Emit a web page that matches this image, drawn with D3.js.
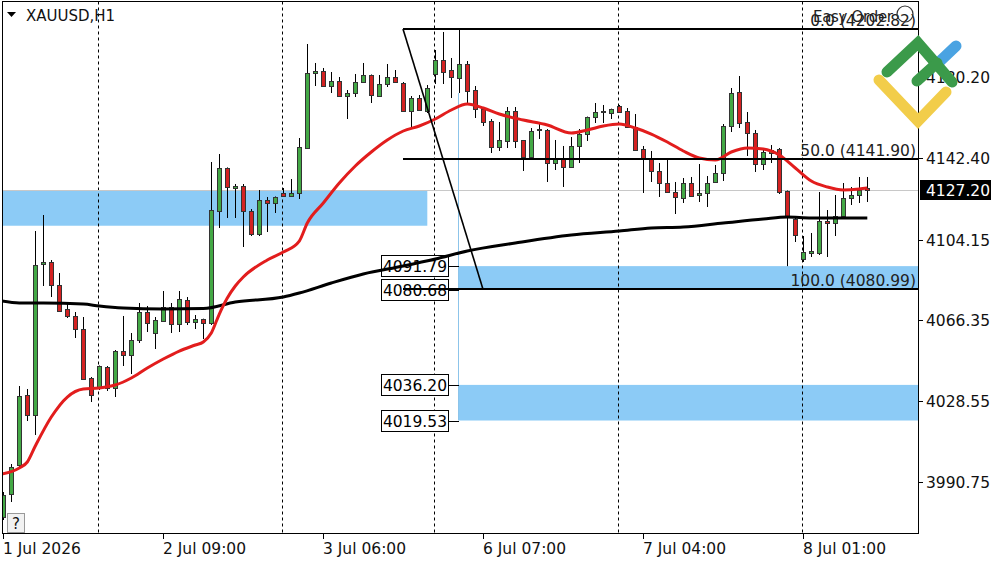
<!DOCTYPE html>
<html>
<head>
<meta charset="utf-8">
<script src="https://cdn.jsdelivr.net/npm/d3@7"></script>
<style>
  body { margin: 0; background: #fff; }
  svg { display: block; font-family: "DejaVu Sans", Tahoma, sans-serif; }
</style>
</head>
<body>
<div id="root"></div>
<script>
// XAUUSD H1 bars (oldest first)
var opens = [3974.37, 3985.13, 3998.71, 4031.47, 4022.11, 4092.79, 4093.72, 4082.96, 4071.72, 4068.45,
  4062.36, 4039.43, 4034.75, 4044.58, 4034.75, 4052.06, 4050.19, 4057.21, 4070.32, 4060.49,
  4066.11, 4072.66, 4064.70, 4075.94, 4065.64, 4067.04, 4065.17, 4117.59, 4137.72, 4128.36,
  4129.29, 4117.59, 4106.83, 4122.74, 4121.34, 4126.02, 4124.61, 4126.02, 4147.08, 4182.19,
  4183.12, 4176.10, 4178.44, 4171.42, 4172.82, 4177.97, 4181.25, 4171.42, 4177.04, 4180.31,
  4177.50, 4164.40, 4170.48, 4164.40, 4181.72, 4188.27, 4183.59, 4179.84, 4186.40, 4174.23,
  4165.33, 4159.72, 4147.55, 4150.36, 4164.40, 4150.83, 4142.87, 4155.51, 4155.51, 4140.06,
  4141.93, 4138.19, 4148.02, 4153.63, 4161.59, 4163.93, 4163.46, 4166.74, 4164.40, 4156.91,
  4146.61, 4141.93, 4136.32, 4130.70, 4126.49, 4123.68, 4130.70, 4125.08, 4126.02, 4131.17,
  4135.38, 4157.38, 4173.29, 4159.25, 4154.10, 4139.59, 4144.74, 4146.61, 4126.95, 4113.85,
  4095.13, 4097.93, 4097.93, 4112.91, 4111.98, 4115.25, 4123.68, 4125.08, 4128.36];
var highs = [3986.07, 3999.17, 4035.68, 4034.28, 4108.23, 4115.72, 4094.66, 4088.57, 4074.53, 4070.32,
  4067.98, 4039.90, 4045.30, 4045.04, 4052.53, 4068.45, 4060.49, 4074.53, 4073.13, 4067.98,
  4080.15, 4074.53, 4080.15, 4077.34, 4068.91, 4067.20, 4140.53, 4144.27, 4138.00, 4130.23,
  4130.23, 4118.53, 4127.42, 4124.15, 4124.40, 4128.36, 4132.57, 4151.76, 4195.76, 4186.87,
  4184.53, 4182.65, 4180.31, 4174.23, 4181.72, 4186.87, 4181.50, 4181.25, 4186.40, 4183.59,
  4177.97, 4171.42, 4171.89, 4176.57, 4192.95, 4201.38, 4189.21, 4202.82, 4187.80, 4176.10,
  4165.80, 4160.65, 4159.25, 4166.27, 4166.27, 4150.83, 4156.44, 4158.31, 4155.97, 4150.83,
  4148.02, 4152.23, 4155.97, 4161.80, 4168.14, 4167.21, 4165.50, 4167.21, 4165.80, 4162.99,
  4148.02, 4145.68, 4140.06, 4141.46, 4131.17, 4133.04, 4133.51, 4139.59, 4133.97, 4139.12,
  4158.31, 4175.16, 4180.78, 4163.93, 4155.51, 4146.61, 4148.48, 4147.08, 4127.20, 4114.78,
  4105.89, 4107.30, 4126.49, 4118.06, 4125.08, 4130.70, 4128.83, 4133.51, 4133.51];
var lows = [3972.96, 3981.39, 3997.50, 4019.30, 4012.75, 4082.49, 4077.34, 4070.32, 4067.51, 4058.15,
  4038.49, 4028.19, 4033.81, 4033.34, 4030.53, 4045.04, 4041.30, 4055.81, 4060.96, 4053.00,
  4065.64, 4060.49, 4060.96, 4064.23, 4062.36, 4057.68, 4064.23, 4109.64, 4114.32, 4114.32,
  4100.74, 4105.89, 4105.89, 4107.76, 4116.66, 4124.30, 4124.15, 4123.21, 4146.80, 4176.10,
  4175.63, 4172.82, 4170.95, 4160.65, 4170.95, 4177.50, 4168.14, 4170.95, 4175.63, 4177.50,
  4163.93, 4156.91, 4164.40, 4163.46, 4177.04, 4177.04, 4170.48, 4172.82, 4168.14, 4161.12,
  4157.38, 4144.74, 4145.68, 4147.08, 4147.08, 4136.32, 4142.87, 4151.29, 4131.17, 4136.78,
  4128.83, 4137.72, 4140.06, 4150.36, 4158.78, 4158.78, 4160.65, 4163.70, 4156.60, 4145.68,
  4126.02, 4131.17, 4124.15, 4126.02, 4116.19, 4121.34, 4124.15, 4121.81, 4119.47, 4130.70,
  4131.63, 4154.57, 4156.44, 4143.34, 4135.85, 4136.78, 4140.06, 4125.55, 4091.79, 4103.08,
  4093.72, 4096.06, 4097.00, 4096.06, 4105.89, 4114.78, 4120.40, 4121.34, 4121.81];
var closes = [3984.66, 3997.77, 4031.00, 4022.11, 4092.32, 4093.72, 4082.96, 4070.79, 4068.45, 4062.36,
  4038.96, 4031.47, 4045.04, 4034.75, 4052.06, 4050.19, 4057.21, 4070.32, 4065.17, 4066.57,
  4072.66, 4064.70, 4076.40, 4065.64, 4067.04, 4065.17, 4118.06, 4137.72, 4128.83, 4129.29,
  4117.59, 4106.83, 4122.74, 4121.34, 4124.15, 4124.61, 4126.02, 4147.55, 4182.19, 4183.12,
  4176.10, 4178.44, 4171.42, 4172.82, 4177.97, 4181.25, 4171.89, 4177.04, 4180.31, 4177.97,
  4164.40, 4170.48, 4164.87, 4175.16, 4188.27, 4182.65, 4180.31, 4186.40, 4173.76, 4165.33,
  4159.25, 4147.55, 4150.83, 4164.40, 4150.36, 4142.87, 4155.04, 4155.97, 4140.06, 4141.93,
  4138.19, 4148.02, 4153.63, 4161.59, 4163.93, 4164.40, 4165.33, 4163.93, 4156.91, 4146.14,
  4142.40, 4136.32, 4130.70, 4126.49, 4124.15, 4130.70, 4124.61, 4126.02, 4130.70, 4135.38,
  4157.38, 4172.82, 4158.78, 4154.10, 4139.59, 4145.21, 4146.14, 4126.49, 4114.78, 4106.36,
  4098.40, 4098.87, 4112.91, 4111.98, 4115.25, 4123.68, 4125.08, 4127.42, 4127.20];

// moving averages, [bar index, price] read at sample bars
var maFast = [[-0.2,3994.49],[2,3997.30],[3,4000.11],[4,4007.60],[6,4021.17],[8,4030.53],[10,4034.28],
  [12,4034.75],[14,4036.15],[16,4039.43],[18,4044.11],[20,4048.32],[22,4052.06],[24,4054.87],
  [25,4056.28],[26,4060.49],[27,4069.38],[28,4076.87],[29,4082.49],[30,4086.70],[33,4094.66],
  [35,4098.40],[37,4103.55],[38,4111.98],[40,4121.34],[42,4130.70],[44,4138.66],[46,4145.21],
  [48,4150.83],[50,4155.04],[52,4157.38],[54,4160.65],[56,4164.87],[58,4167.68],[60,4165.80],
  [62,4162.99],[65,4160.19],[68,4157.85],[71,4154.10],[73,4155.51],[75,4157.38],[77,4158.31],
  [79,4156.44],[81,4153.63],[83,4149.89],[85,4145.68],[87,4142.40],[89,4141.46],[91,4145.21],
  [93,4147.08],[95,4146.61],[97,4143.80],[99,4137.72],[101,4131.63],[103,4128.83],[105,4127.42],
  [107,4127.89],[108,4128.36]];
var maSlow = [[-0.2,4075.47],[2,4074.53],[5,4074.53],[10,4074.06],[12,4073.13],[15,4072.19],[20,4071.72],
  [25,4071.95],[29,4075.00],[35,4077.34],[37,4079.21],[41,4083.89],[45,4088.11],[50,4091.85],
  [54,4095.13],[58,4098.87],[64,4102.61],[71,4106.36],[77,4108.23],[81,4109.64],[85,4110.10],
  [90,4111.98],[95,4113.85],[98,4114.78],[101,4114.32],[108,4114.32]];

var priceTicks = [4180.20, 4142.40, 4104.15, 4066.35, 4028.55, 3990.75];
var timeTicks = [0, 20, 40, 60, 80, 100];
var timeLabels = ["1 Jul 2026", "2 Jul 09:00", "3 Jul 06:00", "6 Jul 07:00", "7 Jul 04:00", "8 Jul 01:00"];
var daySeparators = [12, 35, 54, 77, 100];

// supply/demand zones: [from bar, to bar (null = right edge), low, high]
var zones = [[-1, 53, 4110.70, 4127.42], [57, null, 4080.68, 4091.79], [57, null, 4019.53, 4036.20]];
var zoneLabels = [4091.79, 4080.68, 4036.20, 4019.53];
var zoneLineBar = 57;

var fibAnchors = [50, 60];
var fibPrices = [4202.82, 4141.90, 4080.99];
var fibLabels = ["0.0 (4202.82)", "50.0 (4141.90)", "100.0 (4080.99)"];
var lastPrice = 4127.20;

var width = 1000, height = 562;
var pLeft = 2.5, pRight = 918.5, pTop = 1.5, pBottom = 533.5;

var svg = d3.select("#root").append("svg")
    .attr("width", width)
    .attr("height", height);

var x = d3.scaleLinear().domain([0, 108]).range([3.3, 867.3]);
var y = d3.scaleLinear().domain([3966.88, 4215.42]).range([533, 2]);

svg.append("defs").append("clipPath").attr("id", "plot")
    .append("rect").attr("x", pLeft).attr("y", pTop)
    .attr("width", pRight - pLeft).attr("height", pBottom - pTop);

var chart = svg.append("g").attr("clip-path", "url(#plot)");

function zoneX(d) { return d[0] < 0 ? pLeft : Math.round(x(d[0])); }

// zones
chart.selectAll("rect.zone").data(zones).enter().append("rect")
    .attr("class", "zone")
    .attr("x", zoneX)
    .attr("y", function(d) { return y(d[3]); })
    .attr("width", function(d) { return (d[1] === null ? pRight : x(d[1])) - zoneX(d); })
    .attr("height", function(d) { return y(d[2]) - y(d[3]); })
    .attr("fill", "#8ccbf6");

// day separators
chart.selectAll("line.sep").data(daySeparators).enter().append("line")
    .attr("x1", function(d) { return Math.round(x(d)) - 0.5; })
    .attr("x2", function(d) { return Math.round(x(d)) - 0.5; })
    .attr("y1", pTop).attr("y2", pBottom)
    .attr("stroke", "#000").attr("stroke-width", 1).attr("stroke-dasharray", "3,3");

// bid line
chart.append("line")
    .attr("x1", pLeft).attr("x2", pRight)
    .attr("y1", Math.round(y(lastPrice)) + 0.5).attr("y2", Math.round(y(lastPrice)) + 0.5)
    .attr("stroke", "#c8c8c8");

// thin vertical from the swing bar down to the lower zone
chart.append("line")
    .attr("x1", Math.round(x(zoneLineBar)) - 0.5).attr("x2", Math.round(x(zoneLineBar)) - 0.5)
    .attr("y1", y(lows[zoneLineBar])).attr("y2", y(zones[2][2]))
    .attr("stroke", "#8cc4ea");

// zone price labels
var zl = chart.selectAll("g.zl").data(zoneLabels).enter().append("g")
    .attr("transform", function(d) { return "translate(0," + Math.round(y(d)) + ")"; });
zl.append("line").attr("x1", 449).attr("x2", Math.round(x(zoneLineBar)))
    .attr("y1", 0.5).attr("y2", 0.5).attr("stroke", "#000");
zl.append("rect").attr("x", 381.5).attr("y", -10.5).attr("width", 67).attr("height", 21)
    .attr("fill", "#fff").attr("stroke", "#000");
zl.append("text").attr("x", 447).attr("y", 6).attr("text-anchor", "end")
    .attr("font-size", 15.5).attr("fill", "#000")
    .text(function(d) { return d.toFixed(2); });

// candles
var bars = chart.selectAll("g.bar").data(d3.range(opens.length)).enter().append("g")
    .attr("transform", function(i) { return "translate(" + Math.round(x(i)) + ",0)"; });
bars.append("line")
    .attr("x1", 0.5).attr("x2", 0.5)
    .attr("y1", function(i) { return y(highs[i]); })
    .attr("y2", function(i) { return y(lows[i]); })
    .attr("stroke", "#000");
bars.append("rect")
    .attr("x", -1.5).attr("width", 4)
    .attr("y", function(i) { return Math.round(y(Math.max(opens[i], closes[i]))) + 0.5; })
    .attr("height", function(i) { return Math.max(1, Math.round(y(Math.min(opens[i], closes[i]))) - Math.round(y(Math.max(opens[i], closes[i])))); })
    .attr("fill", function(i) { return closes[i] >= opens[i] ? "#43a845" : "#d42222"; })
    .attr("stroke", "#333");

// moving averages
var ma = d3.line()
    .x(function(d) { return x(d[0]); })
    .y(function(d) { return y(d[1]); })
    .curve(d3.curveMonotoneX);
chart.append("path").datum(maSlow).attr("d", ma)
    .attr("fill", "none").attr("stroke", "#000").attr("stroke-width", 3);
chart.append("path").datum(maFast).attr("d", ma)
    .attr("fill", "none").attr("stroke", "#e21d1d").attr("stroke-width", 3);

// fibonacci
var fx0 = Math.round(x(fibAnchors[0]));
chart.append("line")
    .attr("x1", fx0).attr("y1", y(fibPrices[0]))
    .attr("x2", Math.round(x(fibAnchors[1]))).attr("y2", y(fibPrices[2]))
    .attr("stroke", "#000").attr("stroke-width", 1.6);
chart.selectAll("line.fib").data(fibPrices).enter().append("line")
    .attr("x1", fx0).attr("x2", pRight)
    .attr("y1", function(d) { return Math.round(y(d)); })
    .attr("y2", function(d) { return Math.round(y(d)); })
    .attr("stroke", "#000").attr("stroke-width", 2);
chart.selectAll("text.fib").data(fibPrices).enter().append("text")
    .attr("x", 916).attr("y", function(d) { return Math.round(y(d)) - 3; })
    .attr("text-anchor", "end").attr("font-size", 15.5).attr("fill", "#222")
    .text(function(d, i) { return fibLabels[i]; });

// easy order button overlapping the top fib label
svg.append("text").attr("x", 813).attr("y", 22).attr("font-size", 15).attr("fill", "#222")
    .attr("textLength", 80).text("Easy Order");
svg.append("circle").attr("cx", 905).attr("cy", 14).attr("r", 8)
    .attr("fill", "none").attr("stroke", "#333").attr("stroke-width", 1.2);

// frame
svg.append("rect").attr("x", pLeft).attr("y", pTop)
    .attr("width", pRight - pLeft).attr("height", pBottom - pTop)
    .attr("fill", "none").attr("stroke", "#000");

// price axis
var py = svg.append("g").selectAll("g").data(priceTicks).enter().append("g")
    .attr("transform", function(d) { return "translate(0," + Math.round(y(d)) + ")"; });
py.append("line").attr("x1", pRight).attr("x2", 923).attr("y1", 0.5).attr("y2", 0.5).attr("stroke", "#000");
py.append("text").attr("x", 926).attr("y", 6).attr("font-size", 15.5).attr("fill", "#111")
    .text(function(d) { return d.toFixed(2); });

// last price tag
svg.append("rect").attr("x", 920).attr("y", Math.round(y(lastPrice)) - 10)
    .attr("width", 71).attr("height", 20).attr("fill", "#000");
svg.append("text").attr("x", 926).attr("y", Math.round(y(lastPrice)) + 6)
    .attr("font-size", 15.5).attr("fill", "#fff").text(lastPrice.toFixed(2));

// time axis
var tx = svg.append("g").selectAll("g").data(timeTicks).enter().append("g")
    .attr("transform", function(d) { return "translate(" + Math.round(x(d)) + ",0)"; });
tx.append("line").attr("x1", 0.5).attr("x2", 0.5).attr("y1", pBottom).attr("y2", 539).attr("stroke", "#000");
tx.append("text").attr("x", 0).attr("y", 554).attr("font-size", 15.5).attr("fill", "#111")
    .text(function(d, i) { return timeLabels[i]; });

// help button
svg.append("rect").attr("x", 7.5).attr("y", 513.5).attr("width", 17).attr("height", 19)
    .attr("fill", "#f2f2f2").attr("stroke", "#999");
svg.append("text").attr("x", 16).attr("y", 529).attr("text-anchor", "middle")
    .attr("font-size", 15).attr("fill", "#111").text("?");

// title
svg.append("path").attr("d", "M7,12 L16,12 L11.5,17 Z").attr("fill", "#000");
svg.append("text").attr("x", 26).attr("y", 21).attr("font-size", 15).attr("fill", "#111")
    .text("XAUUSD,H1");

// logo
var logo = svg.append("g").attr("fill", "none").attr("stroke-width", 11).attr("stroke-linecap", "round");
logo.append("path").attr("d", "M879,80 L918,121 L946,92").attr("stroke", "#f2cd4a");
logo.append("path").attr("d", "M937,64 L956,46").attr("stroke", "#4aa3e2");
logo.append("path").attr("d", "M887,72 L918,43 L952,82").attr("stroke", "#3b9a4a");
logo.append("path").attr("d", "M917,81 L937,63").attr("stroke", "#3b9a4a");
</script>
</body>
</html>
